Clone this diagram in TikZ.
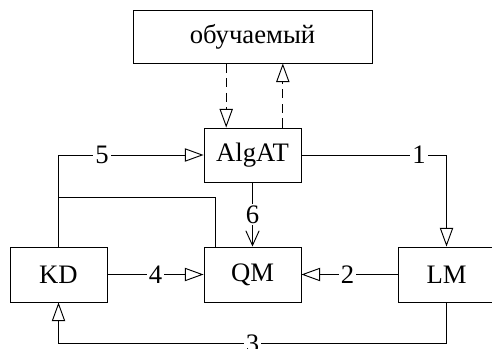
\documentclass[tikz,border=0pt]{standalone}
\usepackage{fontspec}
\setmainfont{Liberation Serif}
\usepackage{tikz}
\usetikzlibrary{positioning,arrows.meta,calc}

\tikzset{
  box/.style={rectangle,draw,line width=0.7pt,inner sep=0pt,
    minimum width=72.75pt,minimum height=40.5pt},
  lbl/.style={fill=white,inner sep=1.5pt},
  arr/.style={line width=0.7pt,-{Triangle[open,length=14pt,width=10pt]}},
  varr/.style={line width=0.7pt,-{Straight Barb[length=11pt,width=10pt]}},
  link/.style={line width=0.7pt}
}

\begin{document}
\begin{tikzpicture}[x=0.75pt,y=-0.75pt,font=\fontsize{20}{23}\selectfont]
\useasboundingbox (0,0) rectangle (492,349);

\node[box,minimum width=179.25pt,minimum height=39.75pt] (learner) at (252.5,36.5) {обучаемый};
\node[box] (algat) at (252.5,155) {AlgAT};
\node[box,minimum height=41.25pt] (kd) at (58.5,274.5) {KD};
\node[box,minimum height=41.25pt] (qm) at (252.5,274.5) {QM};
\node[box,minimum height=41.25pt] (lm) at (446.5,274.5) {LM};

% learner <-> AlgAT
\coordinate (dn) at ([xshift=17pt]algat.north west);
\coordinate (up) at ([xshift=-14pt]algat.north east);
\draw[arr,dashed,dash pattern=on 7pt off 4pt] (dn |- learner.south) -- (dn);
\draw[arr,dashed,dash pattern=on 7pt off 4pt] (up) -- (up |- learner.south);

% numbered links
\draw[arr] (algat.east) -- node[lbl,pos=0.81]{1} (algat.east -| lm) -- (lm.north);
\draw[arr] (lm.west) -- node[lbl,pos=0.52]{2} (qm.east);
\draw[arr] (lm.south) -- ++(0,41) -| node[lbl,pos=0.25]{3} (kd.south);
\draw[arr] (kd.east) -- node[lbl,pos=0.5]{4} (qm.west);
\draw[arr] (kd.north) |- node[lbl,pos=0.65]{5} (algat.west);
\draw[varr] (algat.south) -- node[lbl]{6} (qm.north);

% branch from KD to QM
\coordinate (br) at (58.5,197);
\draw[link] (br) -| ([xshift=9pt]qm.north west);
\end{tikzpicture}
\end{document}
